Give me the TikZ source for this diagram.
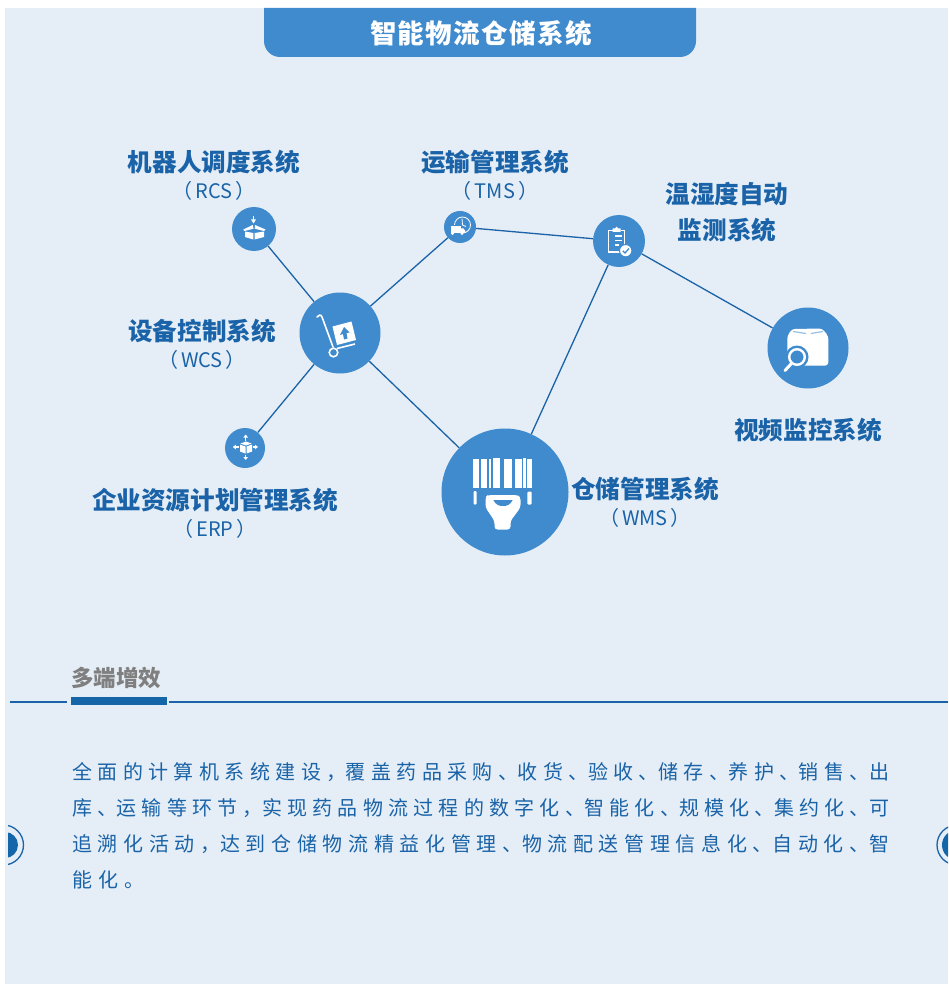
\documentclass[tikz,border=0pt]{standalone}
\usepackage{fontspec}
\setmainfont{Noto Sans CJK SC}
\definecolor{pagebg}{HTML}{E5EEF6}
\definecolor{hub}{HTML}{408BCE}
\definecolor{ink}{HTML}{1A63A8}
\definecolor{barblue}{HTML}{1565A9}
\definecolor{greytxt}{HTML}{7F7F7F}
\newcommand{\szfont}[1]{\fontsize{#1}{#1}\selectfont}
\newcommand{\gobbleone}[1]{}
\newcommand{\glyphbox}[1]{\ifx#1、\makebox[14pt][l]{#1}\else\ifx#1，\makebox[14pt][l]{#1}\else\ifx#1。\makebox[14pt][l]{#1}\else#1\fi\fi\fi}
\newcommand{\spreadx}[2]{\glyphbox{#1}\ifx#2\relax\expandafter\gobbleone\else\hfil\expandafter\spreadx\fi{#2}}
\newcommand{\spreadline}[2]{\makebox[#1pt][s]{\spreadx#2\relax}}
\newcommand{\paren}[1]{（\kern3pt #1\kern3pt）}
\tikzset{
  hubnode/.style={circle,fill=hub,draw=none,inner sep=0pt,minimum size=#1},
  link/.style={draw=ink,line width=1.3pt},
  headlabel/.style={text=ink,font=\szfont{24.6}\bfseries,inner sep=0pt,anchor=center},
  sublabel/.style={text=ink,font=\szfont{20},inner sep=0pt,anchor=center},
  bodyline/.style={text=ink,font=\szfont{20},inner sep=0pt,anchor=west},
}
\begin{document}
\begin{tikzpicture}[x=1pt,y=-1pt]
\useasboundingbox (0,0) rectangle (948,984);
\fill[white] (0,0) rectangle (948,984);
\fill[pagebg] (5,8) rectangle (948,984);
% banner
\fill[hub] (264,8) -- (696,8) -- (696,41) arc[start angle=0,end angle=90,radius=16] -- (280,57) arc[start angle=90,end angle=180,radius=16] -- cycle;
\node[text=white,font=\szfont{26.5}\bfseries,inner sep=0pt] (title) at (481,33) {\spreadline{222}{智能物流仓储系统}};
% hubs
\node[hubnode=44pt] (rcs) at (254,229) {};
\node[hubnode=32pt] (tms) at (460,227) {};
\node[hubnode=52pt] (temp) at (619,241) {};
\node[hubnode=81pt] (wcs) at (340,333) {};
\node[hubnode=40pt] (erp) at (245,448) {};
\node[hubnode=127pt] (wms) at (505,492) {};
\node[hubnode=81pt] (video) at (808,348) {};
% links
\draw[link] (rcs) -- (wcs);
\draw[link] (tms) -- (wcs);
\draw[link] (tms) -- (temp);
\draw[link] (temp) -- (video);
\draw[link] (temp) -- (wms);
\draw[link] (wcs) -- (wms);
\draw[link] (wcs) -- (erp);
% labels
\node[headlabel] (l1) at (214,162) {机器人调度系统};
\node[sublabel] (l1b) at (214,191) {\paren{RCS}};
\node[headlabel] (l2) at (495,162) {运输管理系统};
\node[sublabel] (l2b) at (495,191) {\paren{TMS}};
\node[headlabel] (l3) at (727,194) {温湿度自动};
\node[headlabel] (l3b) at (727,230) {监测系统};
\node[headlabel] (l4) at (202,331) {设备控制系统};
\node[sublabel] (l4b) at (202,360) {\paren{WCS}};
\node[headlabel] (l5) at (215,500) {企业资源计划管理系统};
\node[sublabel] (l5b) at (215,529) {\paren{ERP}};
\node[headlabel] (l6) at (645,489) {仓储管理系统};
\node[sublabel] (l6b) at (645,518) {\paren{WMS}};
\node[headlabel] (l7) at (808,430) {视频监控系统};
% RCS icon
\fill[white] (243.3,229.5) -- (252.7,225) -- (253.5,228.7) -- (244.3,231) -- cycle;
\fill[white] (255,225) -- (265.5,229.5) -- (264,231) -- (254.7,228.7) -- cycle;
\fill[white] (245,231.5) -- (253.3,233) -- (253.3,239.5) -- (245,237) -- cycle;
\fill[white] (254.7,233) -- (264,231.5) -- (264,237) -- (254.7,239.5) -- cycle;
\draw[white,line width=1.3pt] (253.5,216) -- (253.5,221);
\fill[white] (251,219.5) -- (256,219.5) -- (253.5,223.5) -- cycle;
% WCS icon
\draw[white,line width=1.6pt,line cap=round] (317,317) .. controls (318,315) and (321,314) .. (322,317) -- (333,347);
\draw[white,line width=1.6pt] (333.5,352.5) circle[radius=4.3];
\draw[white,line width=1.6pt] (337,348.5) -- (355,344);
\fill[white] (332.5,326.5) -- (351.5,321.5) -- (356,340) -- (337,345) -- cycle;
\fill[hub] (344,327) -- (349.5,332.5) -- (346.5,333) -- (347.5,338.5) -- (344,339.5) -- (343,334) -- (340,335) -- cycle;
% ERP icon
\fill[white] (240,444.5) -- (245.5,446.5) -- (245.5,453.5) -- (240,451.5) -- cycle;
\fill[white] (246.5,446.5) -- (252,444.5) -- (252,451.5) -- (246.5,453.5) -- cycle;
\fill[white] (240.5,443.5) -- (246,441.5) -- (251.5,443.5) -- (246,445.5) -- cycle;
\draw[white,line width=1.1pt] (245.7,437) -- (245.7,440.5) (245.7,454.5) -- (245.7,458) (235,447) -- (238.5,447) (252.5,447) -- (256,447);
\fill[white] (245.7,434.5) -- (248,437.5) -- (243.4,437.5) -- cycle;
\fill[white] (245.7,460) -- (248,457) -- (243.4,457) -- cycle;
\fill[white] (232.8,447) -- (235.8,444.7) -- (235.8,449.3) -- cycle;
\fill[white] (258,447) -- (255,444.7) -- (255,449.3) -- cycle;
% TMS icon
\draw[white,line width=.8pt] (462.5,225) circle[radius=8];
\draw[white,line width=.8pt] (462,218.5) -- (462.5,225) -- (466,226.5);
\fill[hub] (449.5,225) rectangle (461,236);
\fill[white] (450.7,226) rectangle (460.5,233);
\fill[white] (461,228.5) -- (463.5,228.5) -- (465.3,231) -- (465.3,233) -- (461,233) -- cycle;
\fill[white] (452.5,233.5) circle[radius=1.7] (462,233.5) circle[radius=1.7];
% temperature icon
\draw[white,line width=1.8pt] (612.5,230.5) -- (608.5,230.5) -- (608.5,252) -- (621,252);
\draw[white,line width=1.8pt] (620.5,230.5) -- (624.5,230.5) -- (624.5,246);
\fill[white] (612.5,228.5) -- (615,228.5) -- (616.6,226.6) -- (618.2,228.5) -- (620.7,228.5) -- (620.7,232) -- (612.5,232) -- cycle;
\draw[white,line width=1.3pt] (615,236) -- (621.7,236) (615,240.7) -- (621.7,240.7) (615,245) -- (619,245);
\filldraw[fill=white,draw=hub,line width=1pt] (625.7,250.7) circle[radius=6.2];
\draw[hub,line width=1.3pt] (622.8,250.8) -- (625,253) -- (629,248.5);
% WMS icon
\foreach \xa/\xb in {472.7/479,480.7/487.3,488.7/491,504/511.7,515/522,527.3/532}{
  \fill[white] (\xa,459) rectangle (\xb,488.3);
}
\fill[white] (493.3,457.7) rectangle (500,488.3);
\fill[white] (523.3,458) rectangle (526,488.3);
\fill[white,rounded corners=1pt] (473.7,491) rectangle (476.7,504.5);
\fill[white,rounded corners=1pt] (527.3,491.7) rectangle (531.7,504.5);
\fill[white,rounded corners=3pt] (488,495) -- (517,495) -- (520.5,497) -- (520.5,507.5) -- (510.5,521) -- (510.5,529.5) -- (494.5,529.5) -- (494.5,521) -- (485.5,507.5) -- (485.5,497) -- cycle;
\fill[hub] (493.3,500) -- (512.7,500) .. controls (510,505) and (507,506) .. (503,506) .. controls (499,506) and (496,505) .. (493.3,500) -- cycle;
% video icon
\fill[white,rounded corners=3pt] (787.3,336) -- (792,329) -- (822,328.5) -- (828.3,336) -- (828.3,365.5) -- (795,365.5) -- (787.3,355) -- cycle;
\draw[hub!55!white,line width=1.2pt] (793,331.5) -- (806,333.5) (811,333.5) -- (823,331.5);
\fill[hub] (797,357) circle[radius=11.5];
\draw[white,line width=2.4pt] (797,357) circle[radius=7.8];
\draw[white,line width=3pt,line cap=round] (791,364) -- (785,370.5);
% section heading
\node[text=greytxt,font=\szfont{22.5}\bfseries,inner sep=0pt,anchor=west] (sec) at (71,678) {多端增效};
\fill[barblue] (71,697) rectangle (167,705);
\coordinate (ruleA) at (10,702);
\coordinate (ruleB) at (67,702);
\coordinate (ruleC) at (169,702);
\coordinate (ruleD) at (948,702);
\draw[ink,line width=1.1pt] (ruleA) -- (ruleB);
\draw[ink,line width=1.1pt] (ruleC) -- (ruleD);
% body
\node[bodyline] (b1) at (72,772) {\spreadline{817}{全面的计算机系统建设，覆盖药品采购、收货、验收、储存、养护、销售、出}};
\node[bodyline] (b2) at (72,808) {\spreadline{817}{库、运输等环节，实现药品物流过程的数字化、智能化、规模化、集约化、可}};
\node[bodyline] (b3) at (72,844) {\spreadline{817}{追溯化活动，达到仓储物流精益化管理、物流配送管理信息化、自动化、智}};
\node[bodyline] (b4) at (72,880) {\spreadline{66}{能化。}};
% side marks
\begin{scope}
\clip (8,815) rectangle (30,875);
\draw[ink,line width=1.3pt] (3.5,845) circle[radius=20];
\fill[barblue] (5,845) circle[radius=13];
\end{scope}
\begin{scope}
\clip (930,815) rectangle (948,875);
\draw[ink,line width=1.3pt] (957,845) circle[radius=20];
\fill[barblue] (957,845) circle[radius=15];
\end{scope}
\end{tikzpicture}
\end{document}
